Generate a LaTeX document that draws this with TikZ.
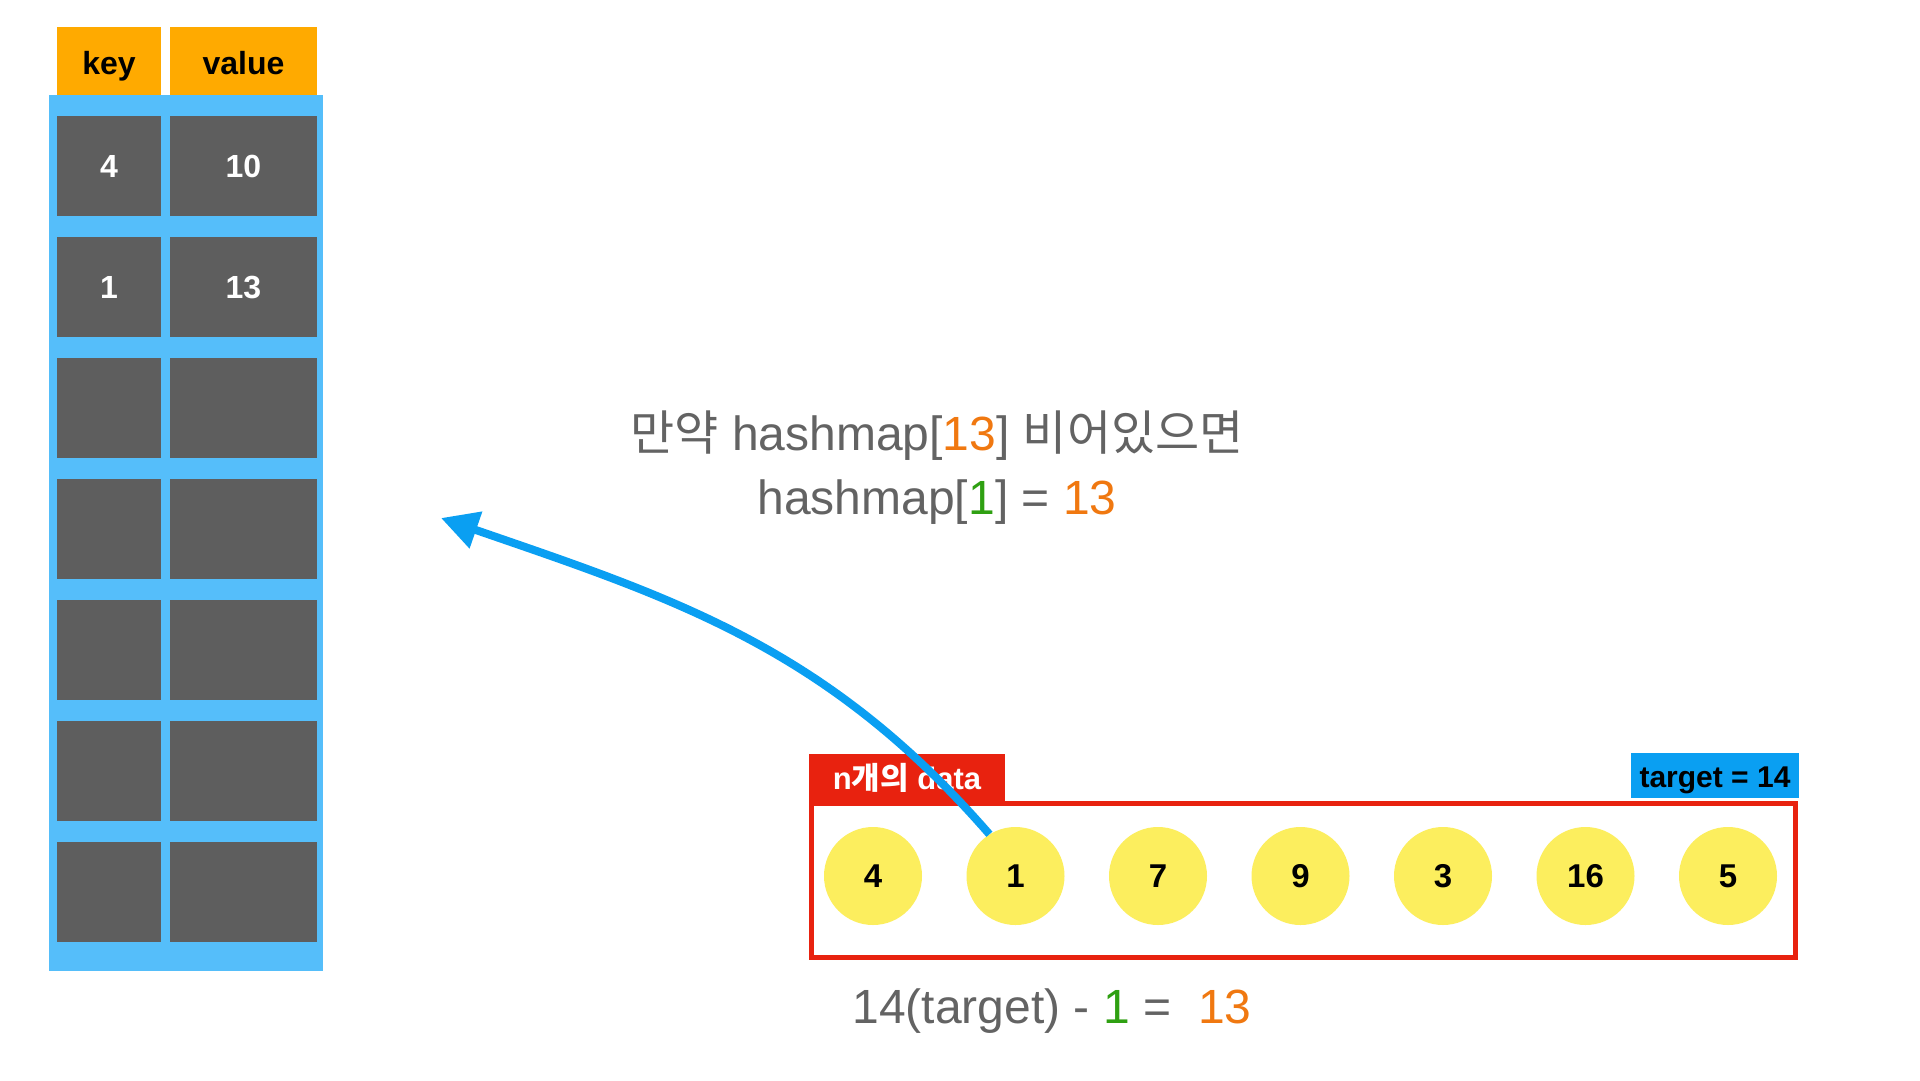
\documentclass[tikz,border=0pt]{standalone}
\usepackage{fontspec}
\setmainfont{Liberation Sans}
\newfontfamily\krfont{Noto Sans CJK KR}
\usepackage{xcolor}
\usetikzlibrary{arrows.meta,positioning}
\definecolor{tblblue}{HTML}{55BEFA}
\definecolor{cellgray}{HTML}{5E5E5E}
\definecolor{headorange}{HTML}{FFAA00}
\definecolor{datared}{HTML}{E8220F}
\definecolor{ballyellow}{HTML}{FCEE5E}
\definecolor{flowblue}{HTML}{0A9FF2}
\definecolor{textgray}{HTML}{636363}
\definecolor{numorange}{HTML}{F07810}
\definecolor{numgreen}{HTML}{2FA012}

\tikzset{
  tblhead/.style={fill=headorange, inner sep=0pt, minimum height=68pt, text height=26pt, text depth=0pt,
                  font=\fontsize{32}{38}\selectfont\bfseries},
  tblcell/.style={fill=cellgray, inner sep=0pt, minimum height=100pt, text=white,
                  font=\fontsize{32}{38}\selectfont\bfseries},
  databall/.style={circle, fill=ballyellow, inner sep=0pt, minimum size=98pt,
                   font=\fontsize{33}{38}\selectfont\bfseries},
  tag/.style={inner sep=0pt, text height=24pt, text depth=0pt},
  flowarrow/.style={draw=flowblue, line width=8pt, -{Triangle[length=37pt,width=37pt]}},
  note/.style={text=textgray, font=\fontsize{48}{64}\selectfont, align=center}
}

\begin{document}
\begin{tikzpicture}[x=1pt,y=-1pt]
    \fill[white] (0,0) rectangle (1920,1080);
    \useasboundingbox (0,0) rectangle (1920,1080);

    % hashmap table
    \node[fill=tblblue, inner sep=0pt, minimum width=274pt, minimum height=876pt] (table) at (186,533) {};
    \node[tblhead, minimum width=104pt] (keyhead) at (109,61) {key};
    \node[tblhead, minimum width=147pt] (valhead) at (243.5,61) {value};
    \foreach \i/\k/\v in {1/4/10, 2/1/13, 3/{}/{}, 4/{}/{}, 5/{}/{}, 6/{}/{}, 7/{}/{}} {
        \node[tblcell, minimum width=104pt] (key\i) at (109,{166+121*(\i-1)}) {\k};
        \node[tblcell, minimum width=147pt] (val\i) at (243.5,{166+121*(\i-1)}) {\v};
    }

    % input data
    \node[draw=datared, line width=5pt, inner sep=0pt, minimum width=984pt, minimum height=154pt] (databox) at (1303.5,880.5) {};
    \node[tag, fill=datared, text=white, minimum width=196pt, minimum height=47pt,
          font=\fontsize{31}{36}\selectfont\bfseries] (datatag) at (907,777.5) {n{\krfont 개의} data};
    \node[tag, fill=flowblue, text=black, minimum width=168pt, minimum height=45pt,
          font=\fontsize{30}{36}\selectfont\bfseries] (targettag) at (1715,775.5) {target = 14};
    \foreach \n [count=\i] in {4,1,7,9,3,16,5}
        \node[databall] (c\i) at ({873+142.5*(\i-1)},876) {\n};

    % explanation
    \node[note] (rule) at (937,468) {{\krfont 만약} hashmap[\textcolor{numorange}{13}] {\krfont 비어있으면}\\
        hashmap[\textcolor{numgreen}{1}] = \textcolor{numorange}{13}};
    \node[note] (calc) at (1052,1011) {14(target) - \textcolor{numgreen}{1} = \ \textcolor{numorange}{13}};

    % store 13 for key 1
    \coordinate (slot) at (441,518);
    \draw[flowarrow] (c2.122) to[out=131,in=-19] (slot);
\end{tikzpicture}
\end{document}
